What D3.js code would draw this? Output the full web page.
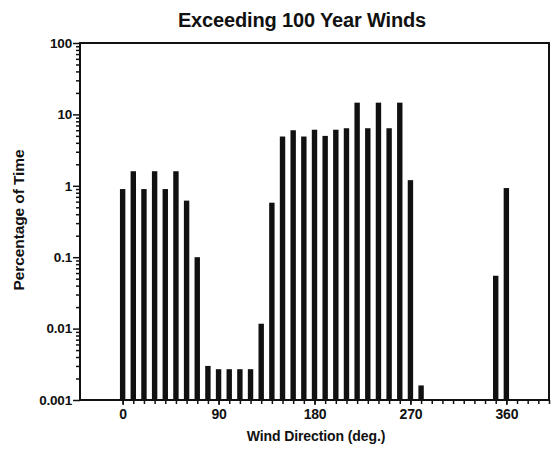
<!DOCTYPE html>
<html>
<head>
<meta charset="utf-8">
<script src="https://cdn.jsdelivr.net/npm/d3@7"></script>
<style>
  html, body { margin: 0; padding: 0; background: #fff; }
  svg { display: block; }
  text { font-family: "Liberation Sans", Arial, sans-serif; font-weight: bold; fill: #111; }
</style>
</head>
<body>
<svg id="chart" width="551" height="450"></svg>
<script>
const directions = [0,10,20,30,40,50,60,70,80,90,100,110,120,130,140,150,160,170,180,190,200,210,220,230,240,250,260,270,280,290,300,310,320,330,340,350,360];
const percentTime = [0.9,1.6,0.9,1.6,0.9,1.6,0.62,0.1,0.003,0.0027,0.0027,0.0027,0.0027,0.0117,0.58,4.9,6.0,4.9,6.1,5.0,6.1,6.4,14.6,6.4,14.6,6.4,14.6,1.2,0.0016,null,null,null,null,null,null,0.055,0.93];
const xTickLabels = [0,90,180,270,360];
const yTickLabels = ["0.001","0.01","0.1","1","10","100"];
const yTickValues = [0.001,0.01,0.1,1,10,100];

const svg = d3.select("#chart");
const mLeft = 80, mRight = 549, mTop = 43, mBottom = 400;

const x = d3.scaleLinear().domain([-40, 400]).range([mLeft, mRight]);
const y = d3.scaleLog().domain([0.001, 100]).range([mBottom, mTop]);

// Title
svg.append("text").attr("x", 302).attr("y", 27).attr("text-anchor", "middle")
  .style("font-size", "20px").style("letter-spacing", "-0.15px").text("Exceeding 100 Year Winds");

// Bars
const data = directions.map((d, i) => ({dir: d, v: percentTime[i]})).filter(d => d.v != null);
svg.append("g").selectAll("rect").data(data).enter().append("rect")
  .attr("x", d => x(d.dir) - 2.7)
  .attr("width", 5.4)
  .attr("y", d => y(d.v))
  .attr("height", d => y(0.001) - y(d.v))
  .attr("fill", "#111");

// Frame
svg.append("rect").attr("x", mLeft).attr("y", mTop).attr("width", mRight - mLeft).attr("height", mBottom - mTop)
  .attr("fill", "none").attr("stroke", "#111").attr("stroke-width", 2);

// Y axis with minor ticks
const minorY = [];
for (let e = -3; e < 2; e++) for (let m = 2; m <= 9; m++) minorY.push(m * Math.pow(10, e));
const yAxisMinor = d3.axisLeft(y).tickValues(minorY).tickSize(4).tickFormat("");
const yAxisMajor = d3.axisLeft(y).tickValues(yTickValues).tickSize(7).tickPadding(1)
  .tickFormat((d, i) => yTickLabels[i]);
const gy1 = svg.append("g").attr("transform", `translate(${mLeft},0)`).call(yAxisMinor);
const gy2 = svg.append("g").attr("transform", `translate(${mLeft},0)`).call(yAxisMajor);
[gy1, gy2].forEach(g => {
  g.select(".domain").remove();
  g.selectAll("line").attr("stroke", "#111").attr("stroke-width", 1.5);
});
gy2.selectAll("text").style("font-size", "13.5px").style("letter-spacing", "-0.2px")
  .style("font-family", "'Liberation Sans', Arial, sans-serif").attr("fill", "#111");

// X axis with minor ticks
const minorX = d3.range(0, 401, 10);
const xAxisMinor = d3.axisBottom(x).tickValues(minorX).tickSize(4).tickFormat("");
const xAxisMajor = d3.axisBottom(x).tickValues(xTickLabels).tickSize(5).tickPadding(4);
const gx1 = svg.append("g").attr("transform", `translate(0,${mBottom})`).call(xAxisMinor);
const gx2 = svg.append("g").attr("transform", `translate(0,${mBottom})`).call(xAxisMajor);
[gx1, gx2].forEach(g => {
  g.select(".domain").remove();
  g.selectAll("line").attr("stroke", "#111").attr("stroke-width", 1.5);
});
gx2.selectAll("text").style("font-size", "14px").style("letter-spacing", "-0.2px")
  .style("font-family", "'Liberation Sans', Arial, sans-serif").attr("fill", "#111");

// Axis titles
svg.append("text").attr("x", 316).attr("y", 441).attr("text-anchor", "middle")
  .style("font-size", "14px").style("letter-spacing", "-0.1px").text("Wind Direction (deg.)");
svg.append("text").attr("transform", "translate(24,220) rotate(-90)").attr("text-anchor", "middle")
  .style("font-size", "15.5px").style("letter-spacing", "-0.1px").text("Percentage of Time");
</script>
</body>
</html>
